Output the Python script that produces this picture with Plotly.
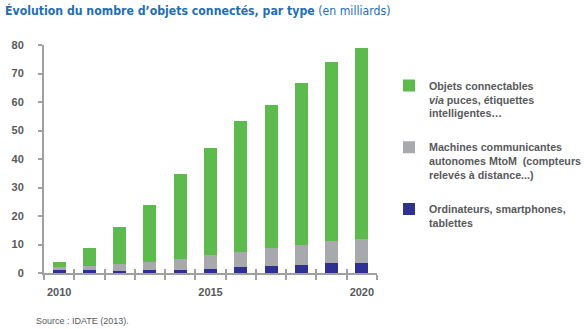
import plotly.graph_objects as go

# Connected objects by type, in billions
years = [2010, 2011, 2012, 2013, 2014, 2015, 2016, 2017, 2018, 2019, 2020]
computers = [1.0, 0.9, 0.6, 1.0, 1.0, 1.3, 2.0, 2.4, 2.7, 3.4, 3.4]
machines = [1.0, 1.4, 2.5, 2.8, 3.8, 4.9, 5.3, 6.2, 7.3, 8.0, 8.7]
connectable = [2.0, 6.6, 12.9, 19.9, 30.1, 37.5, 46.2, 50.5, 56.5, 62.8, 67.0]

series_names = [
    "Ordinateurs, smartphones,<br>tablettes",
    "Machines communicantes<br>autonomes MtoM  (compteurs<br>relevés à distance...)",
    "Objets connectables<br><i>via</i> puces, étiquettes<br>intelligentes…",
]
series_colors = ["#2E3192", "#A7A9AC", "#5DBB4E"]

year_labels = [2010, 2015, 2020]
y_ticks = [0, 10, 20, 30, 40, 50, 60, 70, 80]

title_text = "<b>Évolution du nombre d’objets connectés, par type</b> (en milliards)"
source_text = "Source : IDATE (2013)."

TEXT_GREY = "#58595B"
AXIS_GREY = "#A0A0A0"
BOLD_FONT = "Liberation Sans, Arial, sans-serif"

boundaries = [y - 0.5 for y in years] + [years[-1] + 0.5]

fig = go.Figure()
series = [computers, machines, connectable]
for i, (vals, name, col) in enumerate(zip(series, series_names, series_colors)):
    fig.add_trace(go.Bar(
        x=years, y=vals, name=name, legendgroup=f"g{i}",
        legendrank=len(series) - i,  # top segment listed first
        marker=dict(color=col, line=dict(width=0)),
    ))

# helper trace so the overlaid axis carrying the inner tick marks is drawn
fig.add_trace(go.Scatter(x=[years[0]], y=[None], xaxis="x2", showlegend=False,
                         hoverinfo="skip", mode="markers"))

fig.update_layout(
    width=584, height=329,
    margin=dict(l=33, r=199, t=45, b=56, pad=0),
    paper_bgcolor="white", plot_bgcolor="white",
    barmode="stack", bargap=0.57,
    font=dict(family=BOLD_FONT, color=TEXT_GREY, size=11),
    title=dict(
        text=title_text, xref="container", yref="container",
        x=5 / 584, xanchor="left", y=1 - 11 / 329, yanchor="middle",
        font=dict(family="DejaVu Sans Condensed, Roboto, sans-serif",
                  size=12.2, color="#1F6EB4"),
    ),
    xaxis=dict(
        range=[years[0] - 0.5, years[-1] + 0.5],
        tickmode="array", tickvals=year_labels, ticktext=[str(y) for y in year_labels],
        ticks="", showline=True, linecolor=AXIS_GREY, linewidth=2,
        showgrid=False, zeroline=False, ticklabelstandoff=8,
        tickfont=dict(family=BOLD_FONT, size=11, color=TEXT_GREY, weight="bold"),
        minor=dict(tickmode="array", tickvals=boundaries, ticks="outside",
                   ticklen=5, tickcolor=AXIS_GREY, tickwidth=1.5, showgrid=False),
    ),
    xaxis2=dict(
        overlaying="x", matches="x", range=[years[0] - 0.5, years[-1] + 0.5],
        tickmode="array", tickvals=boundaries, ticks="inside", ticklen=4,
        tickcolor=AXIS_GREY, tickwidth=1.5, showticklabels=False,
        showline=False, showgrid=False, zeroline=False,
    ),
    yaxis=dict(
        range=[0, 80], tickmode="array", tickvals=y_ticks,
        ticks="outside", ticklen=4, tickcolor=AXIS_GREY, tickwidth=1.5,
        showline=True, linecolor=AXIS_GREY, linewidth=2,
        showgrid=False, zeroline=False, ticklabelstandoff=12,
        tickfont=dict(family=BOLD_FONT, size=11, color=TEXT_GREY, weight="bold"),
    ),
    legend=dict(
        xref="container", yref="container",
        x=389 / 584, xanchor="left", y=1 - 72 / 329, yanchor="top",
        traceorder="grouped", tracegroupgap=17, valign="top",
        font=dict(family=BOLD_FONT, size=10.7, color=TEXT_GREY, weight="bold"),
        bgcolor="rgba(0,0,0,0)",
    ),
    showlegend=True,
)

fig.add_annotation(
    text=source_text, xref="paper", yref="paper",
    x=-11 / 352, xanchor="left", y=-48 / 228, yanchor="middle",
    showarrow=False, font=dict(family=BOLD_FONT, size=9, color=TEXT_GREY),
)

fig.write_html("out.html")
